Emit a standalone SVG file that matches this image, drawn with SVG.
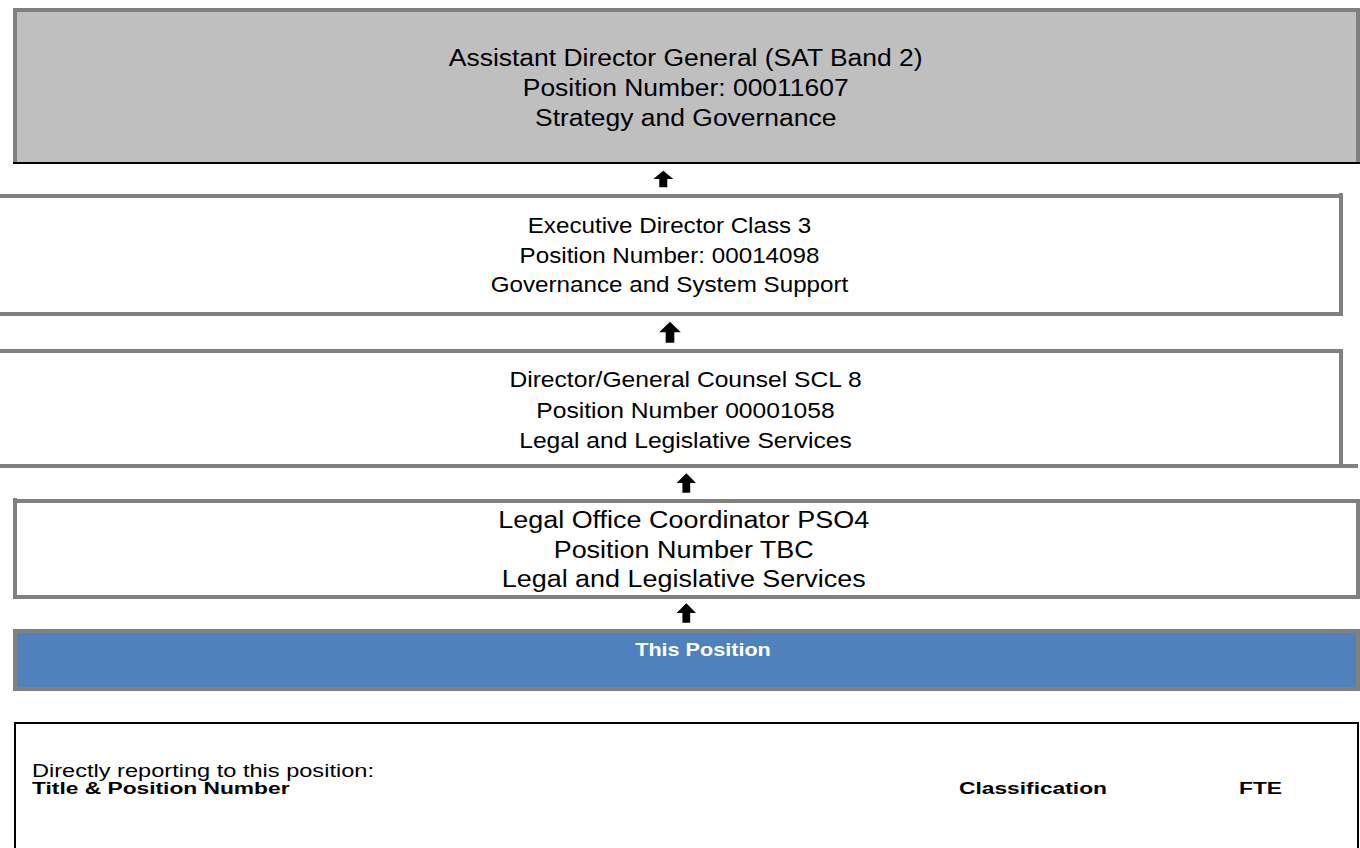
<svg xmlns="http://www.w3.org/2000/svg" xmlns:xlink="http://www.w3.org/1999/xlink" width="1360" height="848" viewBox="0 0 1360 848">
  <style>
    .bg { fill: #ffffff; }
    .edge { stroke: #808080; stroke-width: 4; fill: none; }
    .t { font-family: "Liberation Sans", Arial, sans-serif; fill: #000000; text-anchor: middle; }
    .tl { font-family: "Liberation Sans", Arial, sans-serif; fill: #000000; }
    .b { font-weight: bold; }
    .arrow { fill: #000000; }
  </style>
  <defs>
    <!-- block arrow pointing up, tip at origin, 20 wide and 20 tall -->
    <path id="upArrow" d="M0,0 L10,10 L4,10 L4,20 L-4,20 L-4,10 L-10,10 Z"/>
  </defs>

  <rect class="bg" x="0" y="0" width="1360" height="848"/>

  <!-- top level: Assistant Director General -->
  <g id="node-adg">
    <rect x="15" y="10" width="1343" height="153" fill="#BFBFBF"/>
    <path class="edge" d="M15,163 V10 H1358 V163"/>
    <line x1="13" y1="163" x2="1360" y2="163" stroke="#000000" stroke-width="2"/>
    <g transform="translate(685.7,0) scale(1.08,1)">
      <text class="t" font-size="24.5" x="0" y="66">Assistant Director General (SAT Band 2)</text>
      <text class="t" font-size="24.5" x="0" y="96">Position Number: 00011607</text>
      <text class="t" font-size="24.5" x="0" y="126">Strategy and Governance</text>
    </g>
  </g>

  <!-- Executive Director -->
  <g id="node-ed">
    <path class="edge" d="M0,196 H1341 V193 M1341,196 V314 H0"/>
    <g transform="translate(669.5,0) scale(1.1,1)">
      <text class="t" font-size="22" x="0" y="233">Executive Director Class 3</text>
      <text class="t" font-size="22" x="0" y="263">Position Number: 00014098</text>
      <text class="t" font-size="22" x="0" y="292">Governance and System Support</text>
    </g>
  </g>

  <!-- Director / General Counsel -->
  <g id="node-dgc">
    <path class="edge" d="M0,351 H1341 V466 M0,466 H1358"/>
    <g transform="translate(685.5,0) scale(1.1,1)">
      <text class="t" font-size="22.4" x="0" y="387">Director/General Counsel SCL 8</text>
      <text class="t" font-size="22.4" x="0" y="418">Position Number 00001058</text>
      <text class="t" font-size="22.4" x="0" y="448">Legal and Legislative Services</text>
    </g>
  </g>

  <!-- Legal Office Coordinator -->
  <g id="node-loc">
    <path class="edge" d="M15,498 V597 H1358 V501 H15"/>
    <g transform="translate(683.7,0) scale(1.1,1)">
      <text class="t" font-size="24.5" x="0" y="528">Legal Office Coordinator PSO4</text>
      <text class="t" font-size="24.5" x="0" y="558">Position Number TBC</text>
      <text class="t" font-size="24.5" x="0" y="587">Legal and Legislative Services</text>
    </g>
  </g>

  <!-- this position -->
  <g id="node-this">
    <rect x="15" y="631" width="1343" height="58" fill="#4F81BD" stroke="#808080" stroke-width="4"/>
    <g transform="translate(703,0) scale(1.2,1)">
      <text class="t b" font-size="18" x="0" y="656" style="fill:#ffffff">This Position</text>
    </g>
  </g>

  <!-- direct reports panel -->
  <g id="node-reports">
    <path d="M15,860 V723 H1358 V860" fill="none" stroke="#000000" stroke-width="2"/>
    <g transform="translate(32,0) scale(1.31,1)">
      <text class="tl" font-size="18" x="0" y="777">Directly reporting to this position:</text>
    </g>
    <g transform="translate(32,0) scale(1.34,1)">
      <text class="tl b" font-size="17" x="0" y="794">Title &amp; Position Number</text>
    </g>
    <g transform="translate(959,0) scale(1.34,1)">
      <text class="tl b" font-size="17" x="0" y="794">Classification</text>
    </g>
    <g transform="translate(1239,0) scale(1.34,1)">
      <text class="tl b" font-size="17" x="0" y="794">FTE</text>
    </g>
  </g>

  <!-- reporting lines -->
  <g id="connectors">
    <use class="arrow" xlink:href="#upArrow" href="#upArrow" transform="translate(663.3,170.7) scale(1,0.83)"/>
    <use class="arrow" xlink:href="#upArrow" href="#upArrow" transform="translate(670,321.7) scale(1.08,1.05)"/>
    <use class="arrow" xlink:href="#upArrow" href="#upArrow" transform="translate(686.3,473.3) scale(0.97,0.97)"/>
    <use class="arrow" xlink:href="#upArrow" href="#upArrow" transform="translate(686.3,603.3) scale(0.97,0.97)"/>
  </g>
</svg>
